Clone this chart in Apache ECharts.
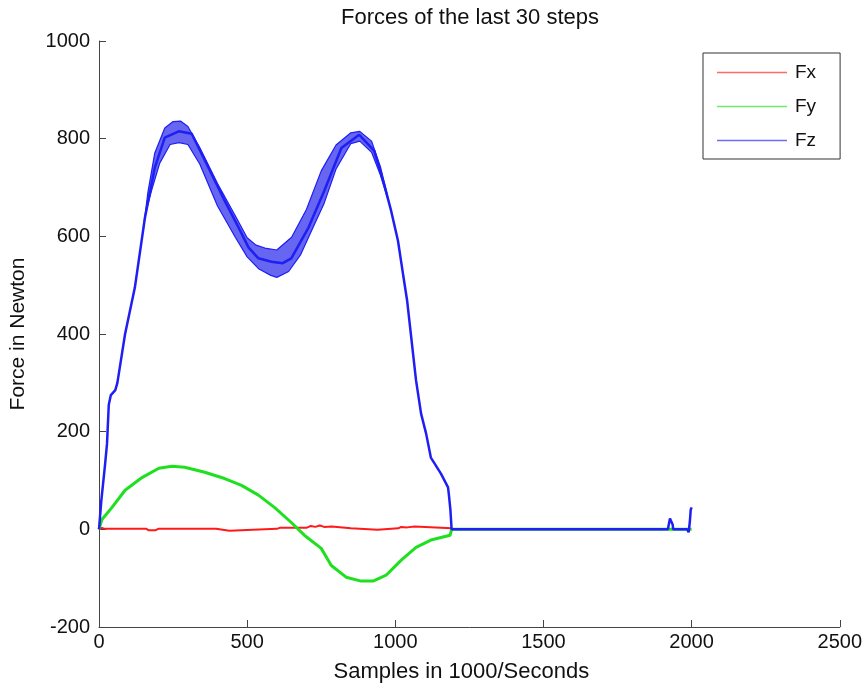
<!DOCTYPE html>
<html>
<head>
<meta charset="utf-8">
<script src="https://cdn.jsdelivr.net/npm/echarts@6/dist/echarts.min.js"></script>
<style>
  html, body { margin: 0; padding: 0; background: #fff; }
  #chart { width: 865px; height: 688px; }
</style>
</head>
<body>
<div id="chart"></div>
<script>
// ---- data ----
const titleText = 'Forces of the last 30 steps';
const xAxisName = 'Samples in 1000/Seconds';
const yAxisName = 'Force in Newton';
const seriesNames = ['Fx', 'Fy', 'Fz'];

const fxX = [0, 10, 20, 160, 168, 190, 200, 395, 400, 440, 445, 600, 610, 700, 715, 730, 745, 760, 785, 790, 850, 855, 940, 945, 1010, 1020, 1040, 1065, 1070, 1190];
const fxY = [0, 3, 1, 1, -2, -2, 1, 1, -3, -3, 1, 1, 3, 3, 7, 5, 8, 5, 6, 2, 2, -1, -1, 2, 2, 5, 4, 6, 2, 2];

const fyX = [0, 10, 44, 88, 145, 202, 246, 289, 357, 424, 481, 538, 592, 649, 693, 750, 784, 834, 885, 925, 969, 1020, 1070, 1120, 1185, 1190, 2000];
const fyY = [0, 20, 45, 80, 106, 125, 129, 127, 117, 104, 90, 70, 45, 14, -12, -39, -74, -98, -106, -106, -94, -63, -37, -22, -12, 0, 0];

// Fz: central trace of the 30 overlapping steps
const fzX = [0, 8, 20, 27, 33, 40, 55, 62, 88, 121, 155, 188, 222, 269, 313, 370, 424, 471, 505, 538, 582, 620, 649, 707, 760, 818, 878, 929, 962, 986, 1009, 1026, 1040, 1070, 1087, 1104, 1120, 1154, 1178, 1181, 1186, 1190, 1920, 1923, 1927, 1932, 1936, 1938, 1985, 1990, 1994, 1997, 2000];
const fzY = [0, 60, 130, 175, 255, 275, 285, 300, 400, 495, 638, 740, 802, 815, 810, 740, 673, 618, 577, 555, 548, 545, 555, 618, 693, 781, 808, 775, 707, 652, 591, 523, 468, 305, 237, 196, 147, 114, 86, 70, 40, 0, 0, 10, 22, 25, 10, 0, 0, -6, 15, 40, 45];

// Fz: upper edge of the band of steps
const fzHiX = [150, 165, 188, 222, 250, 275, 300, 340, 400, 460, 500, 530, 560, 600, 650, 700, 750, 800, 850, 880, 920, 950, 975];
const fzHiY = [617, 690, 770, 822, 835, 836, 825, 782, 708, 642, 597, 582, 576, 572, 598, 655, 734, 787, 812, 815, 795, 742, 680];

// Fz: lower edge of the band of steps
const fzLoX = [160, 178, 205, 240, 270, 300, 340, 400, 460, 500, 540, 580, 600, 640, 680, 720, 760, 800, 850, 880, 920, 950, 975];
const fzLoY = [653, 695, 750, 788, 792, 788, 748, 662, 598, 558, 533, 520, 516, 528, 562, 615, 668, 738, 790, 795, 772, 725, 676];

const xMin = 0, xMax = 2500, xStep = 500;
const yMin = -200, yMax = 1000, yStep = 200;

const colors = { Fx: '#ff1a1a', Fy: '#1fe01f', Fz: '#1e1ef5' };

function zip(xs, ys) { return xs.map((x, i) => [x, ys[i]]); }

const font = '"Liberation Sans", Arial, sans-serif';

const chart = echarts.init(document.getElementById('chart'), null, { renderer: 'canvas' });

const lineBase = { type: 'line', showSymbol: false, symbol: 'none', animation: false, smooth: false };

// band outline: upper edge followed by the lower edge reversed
const bandPoints = zip(fzHiX, fzHiY).concat(zip(fzLoX, fzLoY).reverse());

chart.setOption({
  backgroundColor: '#ffffff',
  animation: false,
  title: {
    text: titleText,
    left: 336,
    top: 2,
    textStyle: { fontFamily: font, fontSize: 22, fontWeight: 'normal', color: '#111' }
  },
  legend: {
    orient: 'vertical',
    left: 703,
    top: 53,
    width: 137,
    padding: [10, 24, 9, 14],
    itemGap: 15,
    itemWidth: 70,
    itemHeight: 18,
    borderColor: '#333',
    borderWidth: 1,
    backgroundColor: '#fff',
    textStyle: { fontFamily: font, fontSize: 19, color: '#111', padding: [0, 0, 0, 3] },
    data: seriesNames.map(n => ({ name: n, icon: 'path://M0,0 L70,0 L70,1.6 L0,1.6 Z', itemStyle: { color: colors[n], opacity: 0.65 } }))
  },
  grid: { left: 97, right: 25, top: 41, bottom: 60, containLabel: false },
  xAxis: {
    type: 'value',
    min: xMin, max: xMax, interval: xStep,
    name: xAxisName,
    nameLocation: 'middle',
    nameGap: 34,
    nameTextStyle: { fontFamily: font, fontSize: 22, color: '#111', padding: [0, 16, 0, 0] },
    axisLine: { show: true, onZero: false, lineStyle: { color: '#444', width: 1 } },
    axisTick: { show: true, inside: true, length: 7, lineStyle: { color: '#444' } },
    axisLabel: { fontFamily: font, fontSize: 20, color: '#111', margin: 5, formatter: v => String(v) },
    splitLine: { show: false }
  },
  yAxis: {
    type: 'value',
    min: yMin, max: yMax, interval: yStep,
    name: yAxisName,
    nameLocation: 'middle',
    nameGap: 70,
    nameTextStyle: { fontFamily: font, fontSize: 21, color: '#111' },
    axisLine: { show: true, onZero: false, lineStyle: { color: '#444', width: 1 } },
    axisTick: { show: true, inside: true, length: 7, lineStyle: { color: '#444' } },
    axisLabel: { fontFamily: font, fontSize: 20, color: '#111', margin: 9, formatter: v => String(v) },
    splitLine: { show: false }
  },
  series: [
    Object.assign({}, lineBase, { name: 'Fx', data: zip(fxX, fxY), lineStyle: { color: colors.Fx, width: 2 }, itemStyle: { color: colors.Fx }, z: 2 }),
    Object.assign({}, lineBase, { name: 'Fy', data: zip(fyX, fyY), lineStyle: { color: colors.Fy, width: 3 }, itemStyle: { color: colors.Fy }, z: 3 }),
    {
      type: 'custom',
      name: 'Fz',
      z: 4,
      silent: true,
      animation: false,
      data: [0],
      renderItem: function (params, api) {
        const pts = bandPoints.map(p => api.coord(p));
        return {
          type: 'polygon',
          shape: { points: pts },
          style: { fill: 'rgba(30,30,235,0.68)', stroke: null }
        };
      }
    },
    Object.assign({}, lineBase, { name: 'Fz', data: zip(fzX, fzY), lineStyle: { color: colors.Fz, width: 2.5 }, itemStyle: { color: colors.Fz }, z: 5 }),
    Object.assign({}, lineBase, { name: 'Fz', data: zip(fzHiX, fzHiY), lineStyle: { color: colors.Fz, width: 1.2 }, itemStyle: { color: colors.Fz }, z: 5 }),
    Object.assign({}, lineBase, { name: 'Fz', data: zip(fzLoX, fzLoY), lineStyle: { color: colors.Fz, width: 1.2 }, itemStyle: { color: colors.Fz }, z: 5 })
  ]
});
</script>
</body>
</html>
